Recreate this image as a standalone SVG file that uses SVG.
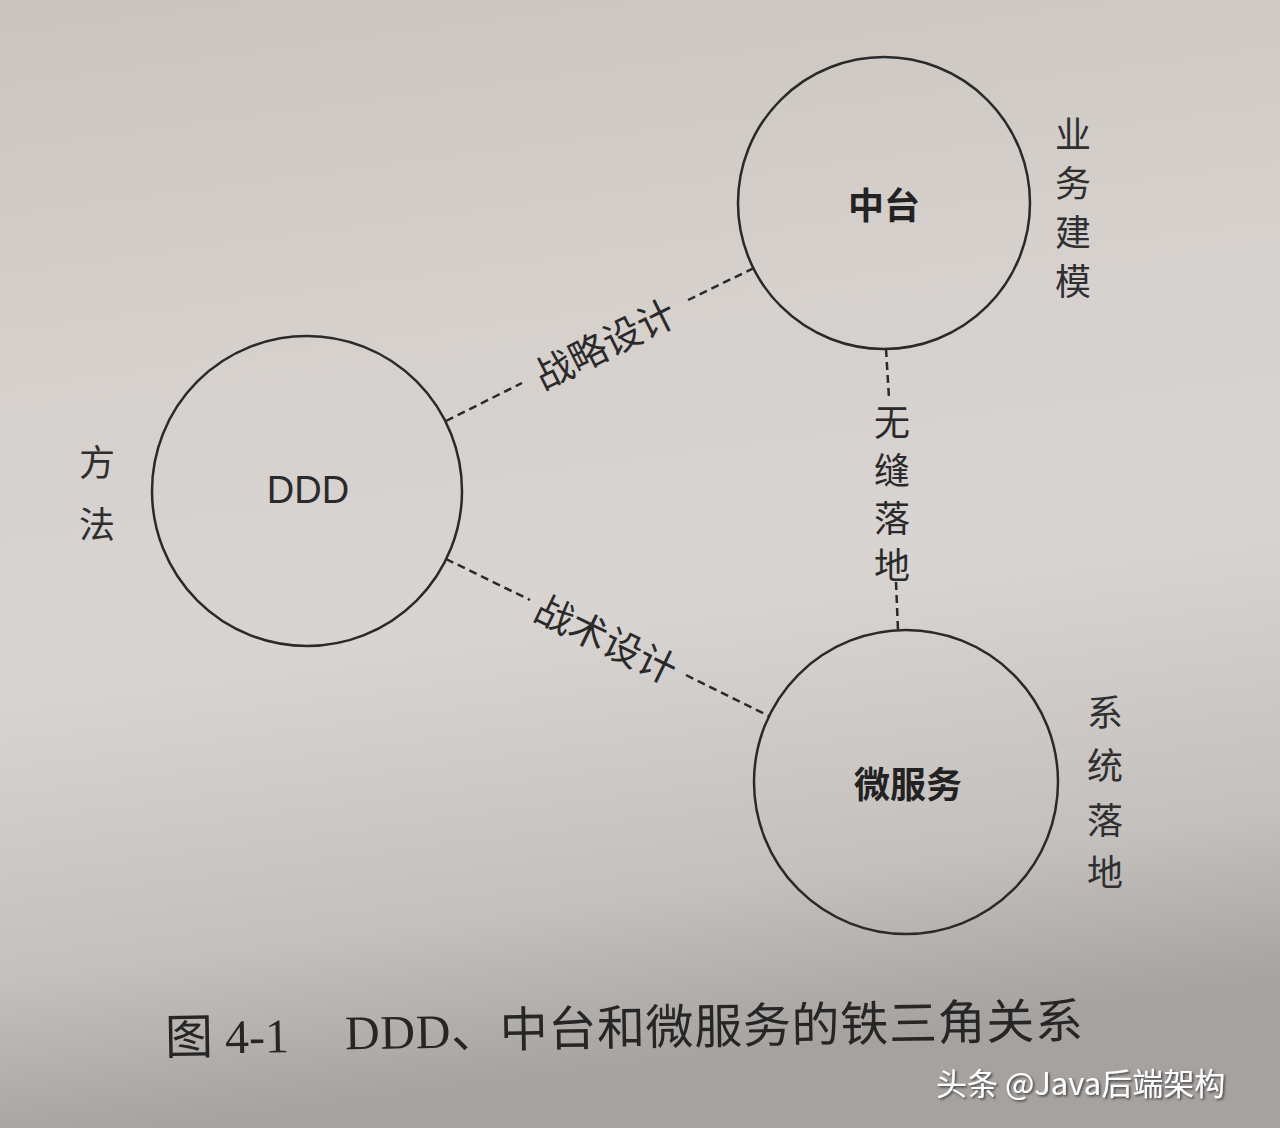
<svg xmlns="http://www.w3.org/2000/svg" width="1280" height="1128" viewBox="0 0 1280 1128">
<defs>
<linearGradient id="bg" x1="0" y1="0" x2="0.15" y2="1">
<stop offset="0" stop-color="#cbc4be"/>
<stop offset="0.35" stop-color="#d6d1cd"/>
<stop offset="0.6" stop-color="#d8d4d2"/>
<stop offset="0.85" stop-color="#c4c0bd"/>
<stop offset="1" stop-color="#a5a2a0"/>
</linearGradient>
<filter id="sh" x="-5%" y="-20%" width="110%" height="140%">
<feDropShadow dx="1.5" dy="1.5" stdDeviation="1" flood-color="#000" flood-opacity="0.6"/>
</filter>
<style>
.node{fill:none;stroke:#2a2a2a;stroke-width:2.5}
.conn{stroke:#2a2a2a;stroke-width:2.5;stroke-dasharray:8 5;fill:none}
.lbl{font-family:"Noto Sans CJK SC","Noto Sans",sans-serif;fill:#2a2a2a;font-size:38px;text-anchor:middle;dominant-baseline:central}
.vl{font-family:"Noto Sans CJK SC","Noto Sans",sans-serif;fill:#2a2a2a;font-size:36px;text-anchor:middle;dominant-baseline:central}
.nl{font-family:"Noto Sans CJK SC","Noto Sans",sans-serif;fill:#222;font-size:36px;text-anchor:middle;dominant-baseline:central;font-weight:bold}
.side{font-family:"Noto Sans CJK SC",sans-serif;fill:#2f2f2f;font-size:36px;text-anchor:middle}
.cap{font-family:"Liberation Serif","Noto Sans CJK SC",serif;font-size:48px;fill:#262626}
</style>
</defs>
<rect width="1280" height="1128" fill="url(#bg)"/>
<g id="connectors">
<line class="conn" x1="446" y1="421" x2="522" y2="383"/>
<line class="conn" x1="688" y1="300" x2="754" y2="268"/>
<text class="lbl" transform="translate(604,342) rotate(-26.5)">战略设计</text>
<line class="conn" x1="446" y1="559" x2="530" y2="600"/>
<line class="conn" x1="686" y1="675" x2="769" y2="716"/>
<text class="lbl" transform="translate(607,637) rotate(25.9)">战术设计</text>
<line class="conn" x1="886" y1="349" x2="889" y2="398"/>
<line class="conn" x1="896" y1="582" x2="898" y2="630"/>
<text class="vl"><tspan x="892" y="420">无</tspan><tspan x="892" y="468">缝</tspan><tspan x="892" y="516">落</tspan><tspan x="892" y="563">地</tspan></text>
</g>
<g id="node-zhongtai">
<circle class="node" cx="884" cy="203" r="146"/>
<text class="nl" x="884" y="203">中台</text>
</g>
<g id="node-ddd">
<circle class="node" cx="307" cy="491" r="155"/>
<text x="308" y="490" style="font-family:'Liberation Sans',sans-serif;font-size:38px;fill:#2a2a2a;text-anchor:middle;dominant-baseline:central">DDD</text>
</g>
<g id="node-micro">
<circle class="node" cx="906" cy="782" r="152"/>
<text class="nl" x="908" y="782">微服务</text>
</g>
<g id="side-labels">
<text class="side"><tspan x="1073" y="148">业</tspan><tspan x="1073" y="197">务</tspan><tspan x="1073" y="246">建</tspan><tspan x="1073" y="295">模</tspan></text>
<text class="side"><tspan x="97" y="476">方</tspan><tspan x="97" y="538">法</tspan></text>
<text class="side"><tspan x="1105" y="726">系</tspan><tspan x="1105" y="779">统</tspan><tspan x="1105" y="834">落</tspan><tspan x="1105" y="886">地</tspan></text>
</g>
<g id="caption" transform="rotate(-0.9 620 1030)">
<text class="cap" x="165" y="1047">图 4-1</text>
<text class="cap" x="345" y="1045" textLength="738" lengthAdjust="spacing">DDD、中台和微服务的铁三角关系</text>
</g>
<text x="936" y="1095" font-family="'Noto Sans CJK SC',sans-serif" font-size="31" fill="#ffffff" filter="url(#sh)">头条 @Java后端架构</text>
</svg>
